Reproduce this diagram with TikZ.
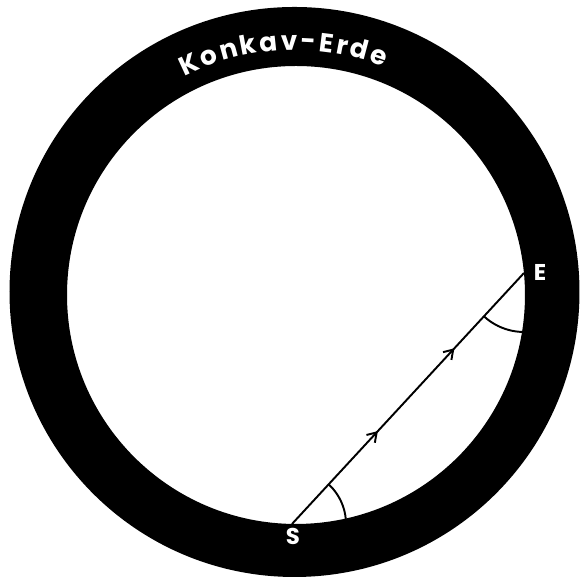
\documentclass[tikz,border=0pt]{standalone}
\usepackage{fontspec}
\setsansfont{Poppins}
\usetikzlibrary{arrows.meta, positioning, decorations.text, decorations.markings}

\begin{document}
\begin{tikzpicture}[
    x=0.02cm, y=0.02cm,
    ring/.style={fill=black, even odd rule},
    lbl/.style={text=white, font=\sffamily\bfseries\fontsize{13}{15}\selectfont, inner sep=0pt},
    ray/.style={line width=1.1pt,
                postaction={decorate, decoration={markings,
                  mark=at position 0.37 with {\arrow{Straight Barb[length=5pt, width=6.5pt, line width=1.1pt]}},
                  mark=at position 0.70 with {\arrow{Straight Barb[length=5pt, width=6.5pt, line width=1.1pt]}}}}},
    angarc/.style={line width=1.1pt}
  ]
  \useasboundingbox (0,0) rectangle (583,580);

  % the earth shell
  \fill[ring] (294.5,288) circle[radius=285] (296,285) circle[radius=229];
  \path[decorate, decoration={text along path, text align={fit to path}, text color=white,
        text={|\sffamily\bfseries\fontsize{15}{17}\selectfont|Konkav-Erde}}]
    (295,287) ++(117:243) arc[start angle=117, end angle=68.5, radius=243];

  \coordinate (S) at (292,56);
  \coordinate (E) at (524,307);
  \node[lbl] (slbl) at (293,44) {S};
  \node[lbl] (elbl) at (540,308) {E};

  \draw[ray] (S) -- (E);
  \draw[angarc] (S) ++(47.3:54) arc[start angle=47.3, end angle=-8, radius=54];
  \draw[angarc] (E) ++(227.3:59) arc[start angle=227.3, end angle=282, radius=59];

\end{tikzpicture}
\end{document}
